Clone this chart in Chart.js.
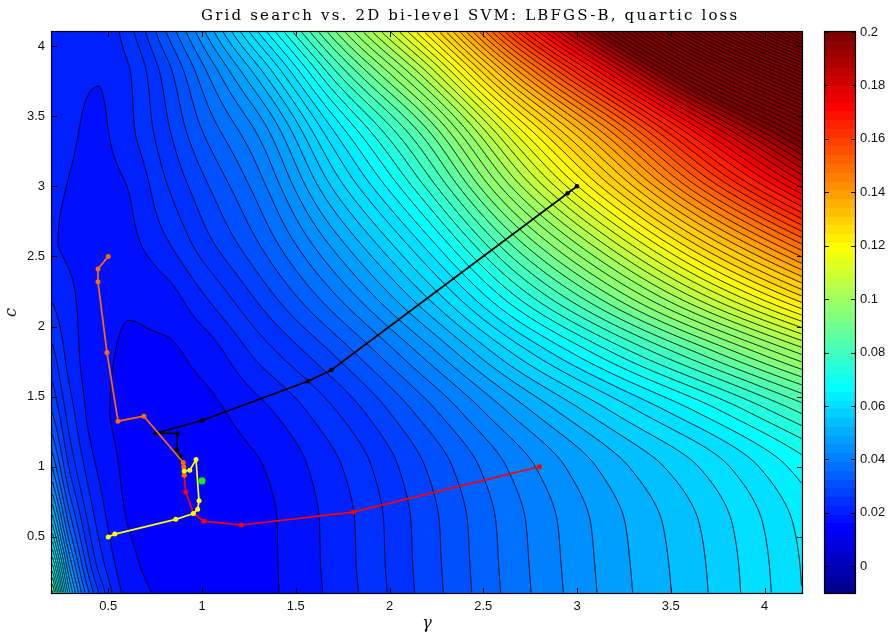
<!DOCTYPE html>
<html><head><meta charset="utf-8">
<script src="https://cdn.jsdelivr.net/npm/chart.js@4.4.0/dist/chart.umd.min.js"></script>
<style>html,body{margin:0;padding:0;background:#fff;}#wrap{position:relative;width:891px;height:636px;}</style>
</head><body><div id="wrap"><canvas id="cv" width="891" height="636"></canvas></div>
<script>
// ---------------- data ----------------
const titleText = 'Grid search vs. 2D bi-level SVM: LBFGS-B, quartic loss';
const xLabel = 'γ';
const yLabel = 'c';
const xTicks = [0.5, 1, 1.5, 2, 2.5, 3, 3.5, 4];
const yTicks = [0.5, 1, 1.5, 2, 2.5, 3, 3.5, 4];
const cbTicks = [0, 0.02, 0.04, 0.06, 0.08, 0.1, 0.12, 0.14, 0.16, 0.18, 0.2];
const colorMin = -0.01, colorMax = 0.2;
const levelStart = 0.002, levelStep = 0.003, levelEnd = 0.35;

const gammaKnots = [0.2, 0.3, 0.45, 0.6, 0.8, 1.0, 1.3, 1.7, 2.2, 2.7, 3.2, 3.7, 4.2];
const cKnots = [0.1, 0.3, 0.6, 1.0, 1.4, 1.8, 2.2, 2.6, 3.0, 3.4, 3.8, 4.1];
const lossC01 = [0.085, 0.052, 0.029, 0.019, 0.0165, 0.0158, 0.0163, 0.0208, 0.0303, 0.040, 0.0485, 0.056, 0.065];
const lossC03 = [0.072, 0.045, 0.025, 0.018, 0.016, 0.0157, 0.0163, 0.021, 0.0305, 0.0402, 0.0487, 0.0562, 0.0652];
const lossC06 = [0.056, 0.036, 0.022, 0.017, 0.0158, 0.0156, 0.0163, 0.0211, 0.0307, 0.0405, 0.0491, 0.0568, 0.0659];
const lossC10 = [0.041, 0.028, 0.0195, 0.0165, 0.0157, 0.0156, 0.0168, 0.0222, 0.0322, 0.0425, 0.0517, 0.0599, 0.0695];
const lossC14 = [0.032, 0.024, 0.0178, 0.0163, 0.0158, 0.0162, 0.019, 0.0257, 0.0368, 0.0488, 0.0595, 0.0696, 0.0808];
const lossC18 = [0.027, 0.0215, 0.0178, 0.0167, 0.0165, 0.018, 0.0238, 0.032, 0.0451, 0.060, 0.0737, 0.087, 0.101];
const lossC22 = [0.0228, 0.0205, 0.0183, 0.0173, 0.0185, 0.0224, 0.0295, 0.0401, 0.0558, 0.0744, 0.0918, 0.1094, 0.1269];
const lossC26 = [0.0202, 0.0196, 0.019, 0.0193, 0.0225, 0.0275, 0.035, 0.0481, 0.0665, 0.0888, 0.1099, 0.1317, 0.1528];
const lossC30 = [0.0203, 0.0199, 0.0191, 0.020, 0.0255, 0.031, 0.0395, 0.0565, 0.0776, 0.1038, 0.1288, 0.155, 0.1798];
const lossC34 = [0.0205, 0.0202, 0.0196, 0.022, 0.028, 0.035, 0.0447, 0.065, 0.0887, 0.1188, 0.1477, 0.1782, 0.2068];
const lossC38 = [0.0205, 0.0203, 0.0201, 0.0225, 0.030, 0.0395, 0.0542, 0.0784, 0.1063, 0.1425, 0.1777, 0.2151, 0.2495];
const lossC41 = [0.0205, 0.0205, 0.0204, 0.0245, 0.0345, 0.046, 0.065, 0.091, 0.123, 0.165, 0.206, 0.25, 0.29];
const lossRows = [lossC01, lossC03, lossC06, lossC10, lossC14, lossC18, lossC22, lossC26, lossC30, lossC34, lossC38, lossC41];

// optimisation paths [gamma, c]
const pathBlack  = [[3.0,3.0],[2.95,2.95],[1.69,1.69],[1.565,1.61],[1.0,1.33],[0.755,1.24],[0.87,1.237],[0.865,1.12],[0.883,1.08],[0.895,1.035]];
const pathRed    = [[2.8,1.0],[1.805,0.677],[1.21,0.585],[1.01,0.612],[0.955,0.667],[0.913,0.821],[0.905,0.94],[0.902,1.0]];
const pathOrange = [[0.5,2.5],[0.445,2.41],[0.445,2.32],[0.493,1.815],[0.552,1.325],[0.69,1.36],[0.9,1.03],[0.903,1.0],[0.905,0.94]];
const pathYellow = [[0.5,0.5],[0.535,0.52],[0.86,0.625],[0.954,0.667],[0.977,0.698],[0.984,0.757],[0.968,1.052],[0.935,0.975],[0.905,0.97]];
const gridBest   = [[1.0,0.9]];

// ---------------- helpers ----------------
function pchipSlopes(xs, ys){
  const n = xs.length, h = [], d = [], m = new Array(n);
  for (let k=0;k<n-1;k++){ h[k]=xs[k+1]-xs[k]; d[k]=(ys[k+1]-ys[k])/h[k]; }
  m[0]=d[0]; m[n-1]=d[n-2];
  for (let k=1;k<n-1;k++){
    if (d[k-1]*d[k] <= 0) m[k]=0;
    else { const w1=2*h[k]+h[k-1], w2=h[k]+2*h[k-1]; m[k]=(w1+w2)/(w1/d[k-1]+w2/d[k]); }
  }
  return m;
}
function pchipEval(xs, ys, m, x){
  const n = xs.length;
  if (x<=xs[0]) x=xs[0]; if (x>=xs[n-1]) x=xs[n-1];
  let k=0; while (k<n-2 && x>xs[k+1]) k++;
  const h=xs[k+1]-xs[k], t=(x-xs[k])/h, t2=t*t, t3=t2*t;
  return (2*t3-3*t2+1)*ys[k] + (t3-2*t2+t)*h*m[k] + (-2*t3+3*t2)*ys[k+1] + (t3-t2)*h*m[k+1];
}
const jet = [];
for (let i=0;i<64;i++){
  const t=(i+1)/64, cl=v=>Math.max(0,Math.min(1,v));
  jet.push([Math.round(255*cl(1.5-Math.abs(4*t-3))), Math.round(255*cl(1.5-Math.abs(4*t-2))), Math.round(255*cl(1.5-Math.abs(4*t-1)))]);
}
function colorIndex(v){
  const i = Math.floor((v-colorMin)/(colorMax-colorMin)*64);
  return Math.max(0, Math.min(63, i));
}

function buildField(chart){
  const a = chart.chartArea, xs = chart.scales.x, ys = chart.scales.y;
  const L=Math.round(a.left), T=Math.round(a.top), R=Math.round(a.right), B=Math.round(a.bottom);
  const W=R-L, H=B-T;
  const Z = new Float32Array(W*H);
  const rowSl = lossRows.map(r=>pchipSlopes(gammaKnots, r));
  const cs = new Float64Array(H);
  for (let j=0;j<H;j++) cs[j]=ys.getValueForPixel(T+j+0.5);
  const col = new Array(cKnots.length);
  for (let i=0;i<W;i++){
    const g = xs.getValueForPixel(L+i+0.5);
    for (let k=0;k<cKnots.length;k++) col[k]=pchipEval(gammaKnots, lossRows[k], rowSl[k], g);
    const sl = pchipSlopes(cKnots, col);
    for (let j=0;j<H;j++) Z[j*W+i]=pchipEval(cKnots, col, sl, cs[j]);
  }
  const oc = document.createElement('canvas'); oc.width=W; oc.height=H;
  const o = oc.getContext('2d');
  const img = o.createImageData(W,H);
  for (let p=0;p<W*H;p++){
    const v=Z[p];
    const k=Math.floor((v-levelStart)/levelStep);
    const lv=levelStart+k*levelStep;
    const c=jet[colorIndex(lv+1e-9)];
    img.data[4*p]=c[0]; img.data[4*p+1]=c[1]; img.data[4*p+2]=c[2]; img.data[4*p+3]=255;
  }
  o.putImageData(img,0,0);
  o.beginPath();
  for (let j=0;j<H-1;j++){
    for (let i=0;i<W-1;i++){
      const A=Z[j*W+i], Bv=Z[j*W+i+1], C=Z[(j+1)*W+i+1], D=Z[(j+1)*W+i];
      const mn=Math.min(A,Bv,C,D), mx=Math.max(A,Bv,C,D);
      const k0=Math.ceil((mn-levelStart)/levelStep), k1=Math.floor((mx-levelStart)/levelStep);
      for (let k=k0;k<=k1;k++){
        const lv=levelStart+k*levelStep;
        if (lv>levelEnd) break;
        const pts=[];
        if ((A<lv)!==(Bv<lv)) pts.push(i+(lv-A)/(Bv-A), j);
        if ((Bv<lv)!==(C<lv)) pts.push(i+1, j+(lv-Bv)/(C-Bv));
        if ((D<lv)!==(C<lv)) pts.push(i+(lv-D)/(C-D), j+1);
        if ((A<lv)!==(D<lv)) pts.push(i, j+(lv-A)/(D-A));
        if (pts.length>=4){ o.moveTo(pts[0]+0.5,pts[1]+0.5); o.lineTo(pts[2]+0.5,pts[3]+0.5); }
        if (pts.length>=8){ o.moveTo(pts[4]+0.5,pts[5]+0.5); o.lineTo(pts[6]+0.5,pts[7]+0.5); }
      }
    }
  }
  o.strokeStyle='#000'; o.lineWidth=1.0; o.stroke();
  chart.$field = {canvas: oc, L, T, W, H};
}

const fieldPlugin = {
  id: 'fieldPlugin',
  beforeDatasetsDraw(chart){
    if (!chart.$field) buildField(chart);
    const f = chart.$field, ctx = chart.ctx;
    ctx.save();
    ctx.drawImage(f.canvas, f.L, f.T);
    const xs=chart.scales.x, ys=chart.scales.y, L=f.L, T=f.T, R=f.L+f.W, B=f.T+f.H;
    ctx.strokeStyle='#000'; ctx.lineWidth=1;
    ctx.beginPath();
    xTicks.forEach(v=>{ const p=Math.round(xs.getPixelForValue(v))+0.5; ctx.moveTo(p,B); ctx.lineTo(p,B-5); ctx.moveTo(p,T); ctx.lineTo(p,T+5); });
    yTicks.forEach(v=>{ const p=Math.round(ys.getPixelForValue(v))+0.5; ctx.moveTo(L,p); ctx.lineTo(L+5,p); ctx.moveTo(R,p); ctx.lineTo(R-5,p); });
    ctx.stroke();
    ctx.lineWidth=1.2;
    ctx.strokeRect(L-0.5, T-0.5, f.W+1, f.H+1);
    // colorbar
    const cb=chart.scales.cb, x0=825, x1=855;
    for (let i=0;i<64;i++){
      const v0=colorMin+i*(colorMax-colorMin)/64, v1=colorMin+(i+1)*(colorMax-colorMin)/64;
      const y0=cb.getPixelForValue(v0), y1=cb.getPixelForValue(v1);
      const c=jet[i];
      ctx.fillStyle='rgb('+c[0]+','+c[1]+','+c[2]+')';
      ctx.fillRect(x0, Math.floor(y1), x1-x0, Math.ceil(y0)-Math.floor(y1));
    }
    ctx.lineWidth=1;
    ctx.beginPath();
    cbTicks.forEach(v=>{ const p=Math.round(cb.getPixelForValue(v))+0.5; ctx.moveTo(x0,p); ctx.lineTo(x0+4,p); ctx.moveTo(x1,p); ctx.lineTo(x1-4,p); });
    ctx.stroke();
    ctx.lineWidth=1.2;
    ctx.strokeRect(x0-0.5, Math.round(cb.top)-0.5, x1-x0+1, Math.round(cb.bottom)-Math.round(cb.top)+1);
    ctx.restore();
  },
  afterDraw(chart){
    const ctx=chart.ctx;
    ctx.save();
    ctx.font='15px "DejaVu Serif"';
    ctx.fillStyle='#000';
    const w0=ctx.measureText(titleText).width, target=536;
    ctx.letterSpacing=((target-w0)/(titleText.length-1)).toFixed(2)+'px';
    ctx.textAlign='left'; ctx.textBaseline='alphabetic';
    ctx.fillText(titleText, 469-target/2, 20);
    ctx.restore();
  }
};

const toPts = arr => arr.map(p=>({x:p[0], y:p[1]}));
function pathSet(arr, color, order, r){
  return {data: toPts(arr), showLine:true, borderColor:color, backgroundColor:color, pointBackgroundColor:color,
    pointBorderColor:color, borderWidth:1.7, pointRadius:r, pointBorderWidth:0, order:order, clip:false};
}
const noPadV = s => { s.paddingTop = 0; s.paddingBottom = 0; };
const tickFont = {family:'"Liberation Sans", Arial, sans-serif', size:13};
new Chart(document.getElementById('cv'), {
  type:'scatter',
  data:{datasets:[
    Object.assign(pathSet(gridBest, '#19e619', 0, 3.6), {showLine:false}),
    pathSet(pathYellow, '#ffff00', 1, 2.5),
    pathSet(pathOrange, '#ff6a00', 2, 2.5),
    pathSet(pathRed, '#ff0000', 3, 2.5),
    pathSet(pathBlack, '#000000', 4, 2.3)
  ]},
  options:{
    responsive:false, animation:false, devicePixelRatio:1,
    layout:{padding:{top:32, left:0, right:0, bottom:0}},
    plugins:{legend:{display:false}, tooltip:{enabled:false}, title:{display:false}},
    events:[],
    scales:{
      x:{type:'linear', position:'bottom', min:0.2, max:4.2,
        afterBuildTicks:s=>{ s.ticks = xTicks.map(v=>({value:v})); },
        afterFit:s=>{ s.height=43; s.paddingLeft=0; s.paddingRight=0; },
        grid:{display:false, drawTicks:false}, border:{display:false},
        ticks:{padding:6, autoSkip:false, maxRotation:0, color:'#111', font:tickFont, callback:v=>String(v)},
        title:{display:true, text:xLabel, color:'#111', font:{family:'"DejaVu Serif", serif', style:'italic', size:16}, padding:{top:0,bottom:3}}
      },
      y:{type:'linear', position:'left', min:0.1, max:4.1,
        afterBuildTicks:s=>{ s.ticks = yTicks.map(v=>({value:v})); },
        afterFit:s=>{ s.width=52; noPadV(s); },
        grid:{display:false, drawTicks:false}, border:{display:false},
        ticks:{padding:7, autoSkip:false, color:'#111', font:tickFont, callback:v=>String(v)},
        title:{display:true, text:yLabel, color:'#111', font:{family:'"DejaVu Serif", serif', style:'italic', size:16}, padding:{top:2,bottom:0}}
      },
      cb:{type:'linear', axis:'y', position:'right', min:colorMin, max:colorMax,
        afterBuildTicks:s=>{ s.ticks = cbTicks.map(v=>({value:v})); },
        afterFit:s=>{ s.width=89; noPadV(s); },
        grid:{display:false, drawTicks:false}, border:{display:false},
        ticks:{padding:58, autoSkip:false, color:'#111', font:tickFont, callback:v=>String(v)}
      }
    }
  },
  plugins:[fieldPlugin]
});
</script></body></html>
